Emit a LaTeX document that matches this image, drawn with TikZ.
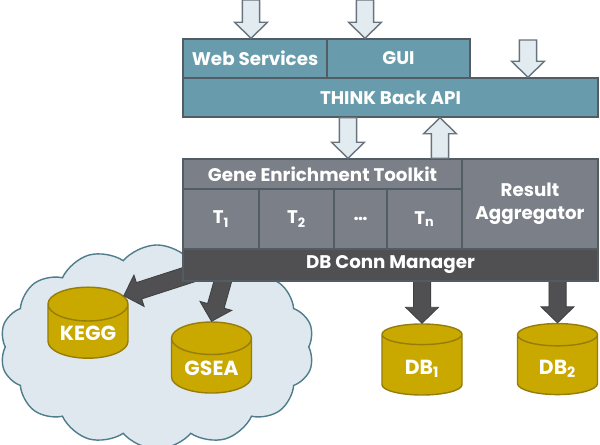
\documentclass[tikz,border=0pt]{standalone}
\usepackage{fontspec}
\setmainfont{Poppins}
\usetikzlibrary{shapes.geometric,shapes.symbols,calc}

\definecolor{tealc}{RGB}{104,156,172}
\definecolor{grayc}{RGB}{122,127,136}
\definecolor{darkc}{RGB}{80,80,82}
\definecolor{boxline}{RGB}{82,92,100}
\definecolor{dbc}{RGB}{201,168,0}
\definecolor{dbline}{RGB}{150,125,10}
\definecolor{cloudc}{RGB}{222,232,238}
\definecolor{cloudline}{RGB}{80,125,140}
\definecolor{arrowfill}{RGB}{226,235,240}
\definecolor{arrowline}{RGB}{105,115,125}

\tikzset{
  tealbox/.style={draw=boxline, fill=tealc, text=white, line width=1pt, inner sep=0pt,
    font=\bfseries\fontsize{13}{16}\selectfont, align=center},
  graybox/.style={tealbox, fill=grayc},
  darkbox/.style={tealbox, fill=darkc},
  dbcyl/.style={cylinder, shape border rotate=90, aspect=0.6, draw=dbline, line width=1pt,
    cylinder uses custom fill, cylinder body fill=dbc, cylinder end fill=dbc,
    text=white, font=\bfseries\fontsize{14.5}{17}\selectfont, text height=1.3em, text depth=0pt,
    minimum width=2cm, minimum height=1.775cm, inner sep=0pt},
  lightarrow/.style={fill=arrowfill, draw=arrowline, line width=1pt},
  darkarrow/.style={fill=darkc, draw=darkc!80!black, line width=0.6pt}
}

% block arrow from #2 to #3
\newcommand{\blockarrow}[3]{%
  \coordinate (ba-h) at ($(#3)!11.4pt!(#2)$);
  \draw[#1] ($(#2)!6.1pt!90:(#3)$) -- ($(ba-h)!6.1pt!-90:(#2)$) -- ($(ba-h)!11.7pt!-90:(#2)$)
    -- (#3) -- ($(ba-h)!11.7pt!90:(#2)$) -- ($(ba-h)!6.1pt!90:(#2)$) -- ($(#2)!6.1pt!-90:(#3)$) -- cycle;}

\begin{document}
\begin{tikzpicture}[x=0.025cm, y=-0.025cm]
\useasboundingbox (0,0) rectangle (600,445);

%cloud
\node[cloud, cloud puffs=14, cloud puff arc=100, aspect=1.6, draw=cloudline, fill=cloudc, line width=1pt,
  minimum width=7.85cm, minimum height=5.1cm] (extdb) at (157,347) {};

%front end
\node[tealbox, minimum width=3.6cm, minimum height=0.975cm] (ws) at (255,58.5) {Web Services};
\node[tealbox, minimum width=3.575cm, minimum height=0.975cm] (gui) at (398.5,58.5) {GUI};
\node[tealbox, minimum width=10.375cm, minimum height=0.975cm] (api) at (390.5,97.5) {THINK Back API};

%toolkit
\node[graybox, minimum width=6.975cm, minimum height=0.75cm] (gek) at (322.5,174) {Gene Enrichment Toolkit};
\node[graybox, minimum width=1.9cm, minimum height=1.5cm] (t1) at (221,219) {T\textsubscript{1}};
\node[graybox, minimum width=1.875cm, minimum height=1.5cm] (t2) at (296.5,219) {T\textsubscript{2}};
\node[graybox, minimum width=1.325cm, minimum height=1.5cm] (tdots) at (360.5,219) {\dots};
\node[graybox, minimum width=1.875cm, minimum height=1.5cm] (tn) at (424.5,219) {T\textsubscript{n}};
\node[graybox, minimum width=3.4cm, minimum height=2.25cm] (ra) at (530,204) {Result\\Aggregator};

%databases
\node[dbcyl] (kegg) at (88,331.5) {KEGG};
\node[dbcyl] (gsea) at (211.5,366) {GSEA};
\node[dbcyl] (db1) at (422,365) {DB\textsubscript{1}};
\node[dbcyl] (db2) at (557.5,365) {DB\textsubscript{2}};

%arrow ends
\coordinate (in1) at (251,0);
\coordinate (in2) at (365,0);
\coordinate (in3) at (528,40);
\coordinate (dn) at (348,0);
\coordinate (up) at (440,0);
\coordinate (kstart) at (197,272);
\coordinate (gstart) at (226,270);

\blockarrow{lightarrow}{in1}{in1 |- ws.north}
\blockarrow{lightarrow}{in2}{in2 |- gui.north}
\blockarrow{lightarrow}{in3}{in3 |- api.north}
\blockarrow{lightarrow}{dn |- api.south}{dn |- gek.north}
\blockarrow{lightarrow}{up |- gek.north}{up |- api.south}

\blockarrow{darkarrow}{kstart}{kegg.north east}
\blockarrow{darkarrow}{gstart}{gsea.north}
\blockarrow{darkarrow}{db1.north |- 0,270}{db1.north}
\blockarrow{darkarrow}{db2.north |- 0,270}{db2.north}

\node[darkbox, minimum width=10.375cm, minimum height=0.8cm] (dbm) at (390.5,265) {DB Conn Manager};
\end{tikzpicture}
\end{document}
